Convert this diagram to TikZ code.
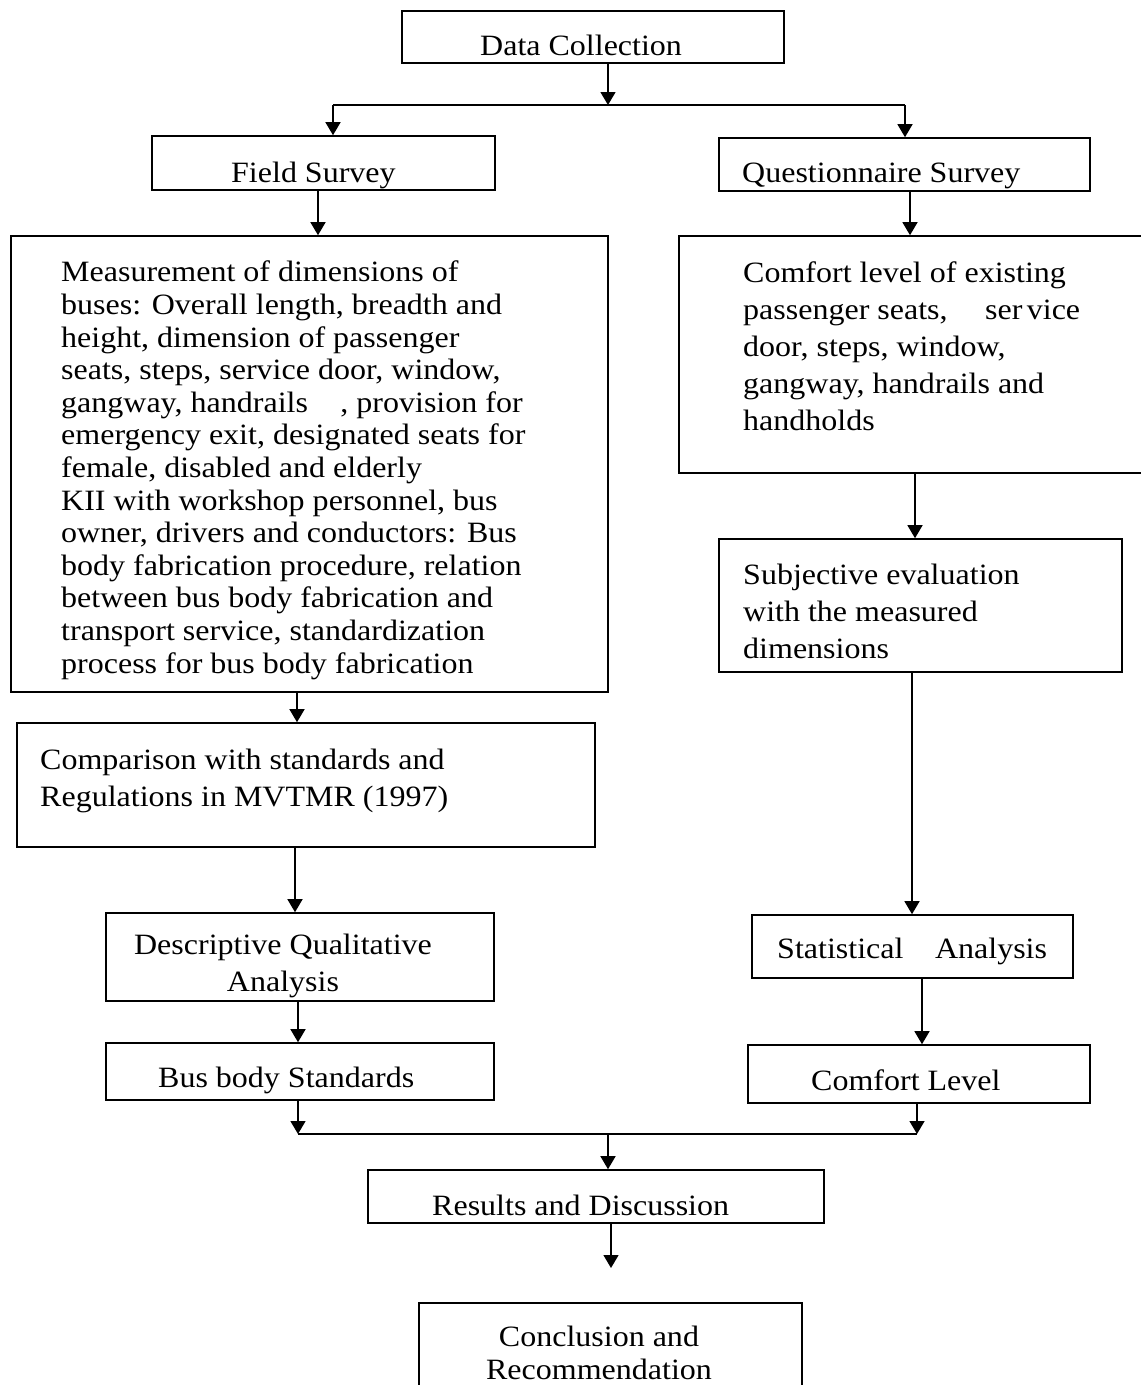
\documentclass[tikz,border=0pt]{standalone}
\usepackage{fontspec}
\setmainfont{Liberation Serif}[FakeStretch=1.085]
\usetikzlibrary{arrows.meta}

\begin{document}
\begin{tikzpicture}[x=1pt,y=-1pt,
  box/.style={draw,line width=1.6pt,inner sep=0pt},
  txt/.style={inner sep=0pt,align=left,font=\fontsize{29.5}{37}\selectfont},
  arr/.style={line width=1.4pt,-{Triangle[length=13pt,width=15pt]}}]
\useasboundingbox (0,0) rectangle (1141,1385);
% boxes
\node [box,minimum width=382,minimum height=52] (data) at (593,37) {};
\node [box,minimum width=343,minimum height=54] (field) at (323.5,163) {};
\node [box,minimum width=371,minimum height=53] (quest) at (904.5,164.5) {};
\node [box,minimum width=597,minimum height=456] (meas) at (309.5,464) {};
\node [box,minimum width=465,minimum height=237] (comfort) at (911.5,354.5) {};
\node [box,minimum width=403,minimum height=133] (subj) at (920.5,605.5) {};
\node [box,minimum width=578,minimum height=124] (comp) at (306,785) {};
\node [box,minimum width=388,minimum height=88] (desc) at (300,957) {};
\node [box,minimum width=321,minimum height=63] (stat) at (912.5,946.5) {};
\node [box,minimum width=388,minimum height=57] (busstd) at (300,1071.5) {};
\node [box,minimum width=342,minimum height=58] (comflev) at (919,1074) {};
\node [box,minimum width=456,minimum height=53] (results) at (596,1196.5) {};
\node [box,minimum width=383,minimum height=100] (concl) at (610.5,1353) {};
% texts
\node [txt,anchor=base west] (tdata) at (480,55) {Data Collection};
\node [txt,anchor=base west] (tfield) at (231,182) {Field Survey};
\node [txt,anchor=base west] (tquest) at (742,182) {Questionnaire Survey};
\node [txt,anchor=north west,font=\fontsize{29.5}{32.6}\selectfont] (tmeas) at (61,261)
  {Measurement of dimensions of\\
   buses: Overall length, breadth and\\
   height, dimension of passenger\\
   seats, steps, service door, window,\\
   gangway, handrails\hspace{1.1em}, provision for\\
   emergency exit, designated seats for\\
   female, disabled and elderly\\
   KII with workshop personnel, bus\\
   owner, drivers and conductors: Bus\\
   body fabrication procedure, relation\\
   between bus body fabrication and\\
   transport service, standardization\\
   process for bus body fabrication};
\node [txt,anchor=north west] (tcomfort) at (743,262)
  {Comfort level of existing\\
   passenger seats,\hspace{1em} ser\hspace{0.15em}vice\\
   door, steps, window,\\
   gangway, handrails and\\
   handholds};
\node [txt,anchor=north west] (tsubj) at (743,564)
  {Subjective evaluation\\
   with the measured\\
   dimensions};
\node [txt,anchor=north west] (tcomp) at (40,749)
  {Comparison with standards and\\
   Regulations in MVTMR (1997)};
\node [txt,anchor=north,align=center] (tdesc) at (283,934)
  {Descriptive Qualitative\\Analysis};
\node [txt,anchor=base west] (tstat) at (777,958) {Statistical\hspace{0.8em} Analysis};
\node [txt,anchor=base west] (tbusstd) at (158,1087) {Bus body Standards};
\node [txt,anchor=base west] (tcomflev) at (811,1090) {Comfort Level};
\node [txt,anchor=base west] (tresults) at (432,1215) {Results and Discussion};
\node [txt,anchor=north,align=center,font=\fontsize{29.5}{33}\selectfont] (tconcl) at (599,1326)
  {Conclusion and\\Recommendation};
% junctions
\coordinate (jtop) at (608,105);
\coordinate (jl) at (333,105);
\coordinate (jr) at (905,105);
\coordinate (jbl) at (298,1134);
\coordinate (jbr) at (917,1134);
\coordinate (jbot) at (608,1134);
\coordinate (tail) at (611,1268);
% connectors
\draw [arr] ([xshift=15]data.south) -- (jtop);
\draw [line width=1.4pt] (jl) -- (jr);
\draw [arr] (jl) -- (jl |- field.north);
\draw [arr] (jr) -- (jr |- quest.north);
\draw [arr] ([xshift=-5.5]field.south) -- ([xshift=-5.5]field.south |- meas.north);
\draw [arr] ([xshift=5.5]quest.south) -- ([xshift=5.5]quest.south |- comfort.north);
\draw [arr] ([xshift=-12.5]meas.south) -- ([xshift=-12.5]meas.south |- comp.north);
\draw [arr] ([xshift=-11]comp.south) -- ([xshift=-11]comp.south |- desc.north);
\draw [arr] ([xshift=-2]desc.south) -- ([xshift=-2]desc.south |- busstd.north);
\draw [arr] ([xshift=3.5]comfort.south) -- ([xshift=3.5]comfort.south |- subj.north);
\draw [arr] ([xshift=-8.5]subj.south) -- ([xshift=-8.5]subj.south |- stat.north);
\draw [arr] ([xshift=9.5]stat.south) -- ([xshift=9.5]stat.south |- comflev.north);
\draw [arr] (busstd.south -| jbl) -- (jbl);
\draw [arr] (comflev.south -| jbr) -- (jbr);
\draw [line width=1.4pt] (jbl) -- (jbr);
\draw [arr] (jbot) -- (jbot |- results.north);
\draw [arr] ([xshift=15]results.south) -- (tail);
\end{tikzpicture}
\end{document}
